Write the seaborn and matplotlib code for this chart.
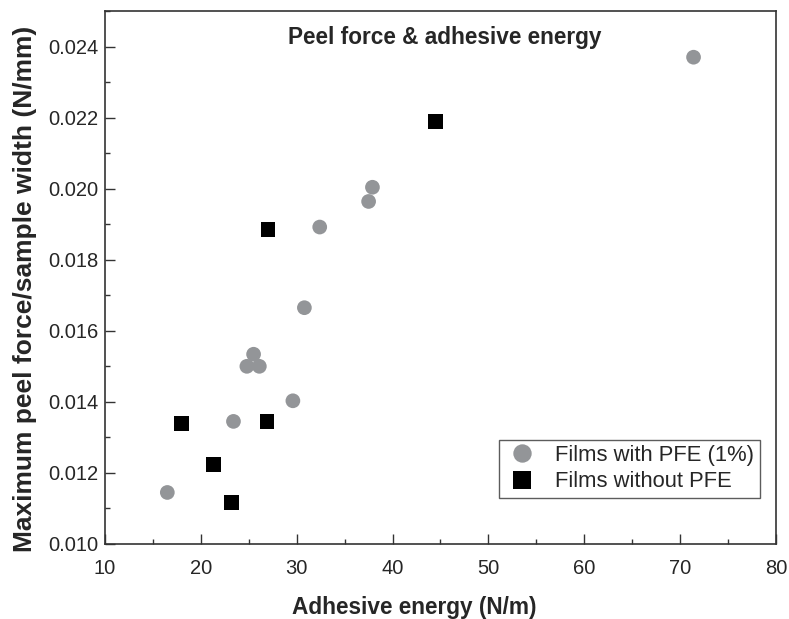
import matplotlib
matplotlib.use("Agg")
import matplotlib.pyplot as plt
import seaborn as sns
import pandas as pd
from matplotlib.ticker import MultipleLocator, FormatStrFormatter

sns.set_style("white")
plt.rcParams['font.family'] = ['Liberation Sans', 'DejaVu Sans']

with_pfe_x = [16.5, 23.4, 24.8, 25.5, 26.1, 29.6, 30.8, 32.4, 37.5, 37.9, 71.4]
with_pfe_y = [0.01145, 0.01345, 0.0150, 0.01534, 0.0150, 0.01403, 0.01665, 0.01892, 0.01964, 0.02004, 0.0237]
without_pfe_x = [18.0, 21.35, 23.2, 26.9, 27.0, 44.5]
without_pfe_y = [0.01339, 0.01223, 0.01116, 0.01345, 0.01885, 0.0219]
series = ["Films with PFE (1%)", "Films without PFE"]

df = pd.DataFrame({
    "x": with_pfe_x + without_pfe_x,
    "y": with_pfe_y + without_pfe_y,
    "group": [series[0]] * len(with_pfe_x) + [series[1]] * len(without_pfe_x),
})

fig = plt.figure(figsize=(7.89, 6.19), dpi=100)
ax = fig.add_axes([0.1331, 0.1212, 0.8504, 0.861])

sns.scatterplot(data=df, x="x", y="y", hue="group", style="group",
                hue_order=series, style_order=series,
                palette={series[0]: "#939598", series[1]: "#000000"},
                markers={series[0]: "o", series[1]: "s"},
                s=112, linewidth=0, ax=ax, legend=True)

ax.set_xlim(10, 80)
ax.xaxis.set_major_locator(MultipleLocator(10))
ax.xaxis.set_minor_locator(MultipleLocator(5))
ax.yaxis.set_major_locator(MultipleLocator(0.002))
ax.yaxis.set_minor_locator(MultipleLocator(0.001))
ax.yaxis.set_major_formatter(FormatStrFormatter('%.3f'))
ax.set_ylim(0.010, 0.025)

ax.tick_params(axis='both', which='major', direction='in', length=7, width=1,
               labelsize=14.5, color='#333333',
               bottom=True, left=True, top=False, right=False)
ax.tick_params(axis='x', which='major', pad=11)
ax.tick_params(axis='y', which='major', pad=5)
ax.tick_params(axis='both', which='minor', direction='in', length=3.5, width=1,
               color='#333333', bottom=True, left=True, top=False, right=False)
for sp in ax.spines.values():
    sp.set_color('#333333')
    sp.set_linewidth(1.2)

ax.set_xlabel("Adhesive energy (N/m)", fontsize=16.3, fontweight='bold', labelpad=13)
ax.set_ylabel("Maximum peel force/sample width (N/mm)", fontsize=19, fontweight='bold', labelpad=8)
ax.xaxis.label.set_x(0.461)
ax.yaxis.label.set_y(0.478)

ax.text(0.507, 0.951, "Peel force & adhesive energy", transform=ax.transAxes,
        ha='center', va='center', fontsize=16.3, fontweight='bold')

leg = ax.legend(loc='lower right', bbox_to_anchor=(0.976, 0.0863), fontsize=15.8,
                frameon=True, fancybox=False, edgecolor='#333333',
                borderpad=0.25, handletextpad=0.7, labelspacing=0.25,
                markerscale=1.25, borderaxespad=0, handlelength=1.6)
leg.get_frame().set_linewidth(1.0)

fig.savefig("out.png", dpi=100)
